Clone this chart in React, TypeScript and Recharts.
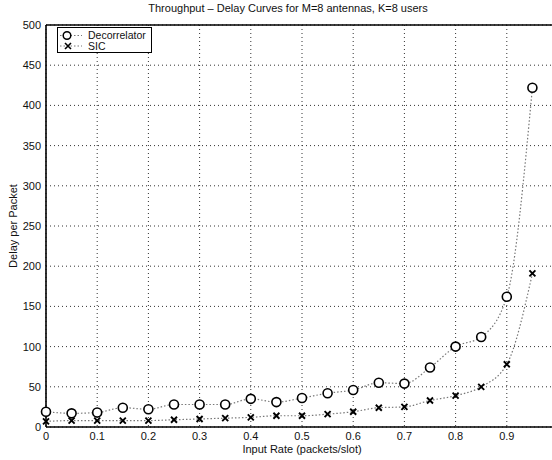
import React from 'react';
import {
  CartesianGrid,
  Line,
  LineChart,
  ReferenceLine,
  XAxis,
  YAxis,
} from 'recharts';

const rates = [0, 0.05, 0.1, 0.15, 0.2, 0.25, 0.3, 0.35, 0.4, 0.45, 0.5, 0.55, 0.6, 0.65, 0.7, 0.75, 0.8, 0.85, 0.9, 0.95];
const decorrelatorDelay = [19, 17, 18, 24, 22, 28, 28, 28, 35, 31, 36, 42, 46, 55, 54, 74, 100, 112, 162, 422];
const sicDelay = [7, 8, 8, 8, 8, 9, 10, 11, 12, 14, 14, 16, 19, 24, 25, 33, 39, 50, 78, 191];

const rateTicks = [0, 0.1, 0.2, 0.3, 0.4, 0.5, 0.6, 0.7, 0.8, 0.9];
const delayTicks = [0, 50, 100, 150, 200, 250, 300, 350, 400, 450, 500];

const FONT = '"Liberation Sans", Arial, Helvetica, sans-serif';
const INK = '#111';

const data = rates.map((rate, i) => ({
  rate,
  decorrelator: decorrelatorDelay[i],
  sic: sicDelay[i],
}));

function CrossDot(props: { cx?: number; cy?: number; index?: number }) {
  const { cx, cy } = props;
  if (cx == null || cy == null) return null;
  const s = 3;
  return (
    <path
      d={`M${cx - s},${cy - s}L${cx + s},${cy + s}M${cx - s},${cy + s}L${cx + s},${cy - s}`}
      stroke="#000"
      strokeWidth={1.9}
      fill="none"
    />
  );
}

function CircleDot(props: { cx?: number; cy?: number }) {
  const { cx, cy } = props;
  if (cx == null || cy == null) return null;
  return <circle cx={cx} cy={cy} r={4.5} stroke="#000" strokeWidth={1.6} fill="#fff" />;
}

function LegendBox() {
  return (
    <div
      style={{
        position: 'absolute',
        left: 57,
        top: 27,
        width: 95,
        height: 26,
        border: '1px solid #000',
        background: '#fff',
        boxSizing: 'border-box',
      }}
    >
      <svg width={95} height={26} style={{ position: 'absolute', left: -1, top: -1 }}>
        <line x1={3} x2={25} y1={8.5} y2={8.5} stroke="#777" strokeWidth={1.2} strokeDasharray="1.5 2" />
        <circle cx={10} cy={8.5} r={3.8} stroke="#000" strokeWidth={1.5} fill="#fff" />
        <text x={31} y={8.5} dy={3.8} fontSize={10.5} fontFamily={FONT} fill={INK}>
          Decorrelator
        </text>
        <line x1={3} x2={25} y1={19} y2={19} stroke="#777" strokeWidth={1.2} strokeDasharray="1.5 2" />
        <path d="M8,16L14,22M8,22L14,16" stroke="#000" strokeWidth={1.6} />
        <text x={31} y={19} dy={3.8} fontSize={10.5} fontFamily={FONT} fill={INK}>
          SIC
        </text>
      </svg>
    </div>
  );
}

export default function App() {
  const fmtRate = (v: number) => String(Math.round(v * 10) / 10);
  return (
    <div
      style={{
        position: 'absolute',
        left: 0,
        top: 0,
        width: 552,
        height: 460,
        overflow: 'hidden',
        background: '#fff',
        fontFamily: FONT,
      }}
    >
      <div
        style={{
          position: 'absolute',
          left: 0,
          top: 2,
          width: 576,
          textAlign: 'center',
          fontSize: 11,
          color: INK,
        }}
      >
        Throughput – Delay Curves for M=8 antennas, K=8 users
      </div>
      <LineChart
        width={570}
        height={460}
        data={data}
        margin={{ top: 25, right: 12, left: 0, bottom: 0 }}
        style={{ position: 'absolute', left: 0, top: 0 }}
      >
        <CartesianGrid stroke="#333" strokeDasharray="1 3" strokeWidth={1} />
        <XAxis
          dataKey="rate"
          type="number"
          domain={[0, 1]}
          ticks={rateTicks}
          tickFormatter={fmtRate}
          interval={0}
          height={33}
          tickLine={false}
          tickSize={0}
          tickMargin={5}
          axisLine={{ stroke: '#000', strokeWidth: 1.6 }}
          tick={{ fill: INK, fontSize: 11, fontFamily: FONT }}
          label={{
            value: 'Input Rate (packets/slot)',
            position: 'insideBottom',
            offset: 7,
            fill: INK,
            fontSize: 11,
            fontFamily: FONT,
          }}
        />
        <YAxis
          type="number"
          domain={[0, 500]}
          ticks={delayTicks}
          interval={0}
          width={46}
          tickLine={false}
          tickSize={0}
          tickMargin={5}
          axisLine={{ stroke: '#000', strokeWidth: 1.6 }}
          tick={{ fill: INK, fontSize: 11, fontFamily: FONT }}
          label={{
            value: 'Delay per Packet',
            angle: -90,
            position: 'insideLeft',
            offset: 13,
            style: { textAnchor: 'middle' },
            fill: INK,
            fontSize: 11,
            fontFamily: FONT,
          }}
        />
        <ReferenceLine y={500} stroke="#000" strokeWidth={1.6} />
        <Line
          type="monotone"
          dataKey="decorrelator"
          stroke="#777"
          strokeWidth={1.2}
          strokeDasharray="1.5 2"
          dot={(p: any) => <CircleDot key={`dec-${p.index}`} cx={p.cx} cy={p.cy} />}
          activeDot={false}
          isAnimationActive={false}
        />
        <Line
          type="monotone"
          dataKey="sic"
          stroke="#777"
          strokeWidth={1.2}
          strokeDasharray="1.5 2"
          dot={(p: any) => <CrossDot key={`sic-${p.index}`} cx={p.cx} cy={p.cy} />}
          activeDot={false}
          isAnimationActive={false}
        />
      </LineChart>
      <LegendBox />
    </div>
  );
}
